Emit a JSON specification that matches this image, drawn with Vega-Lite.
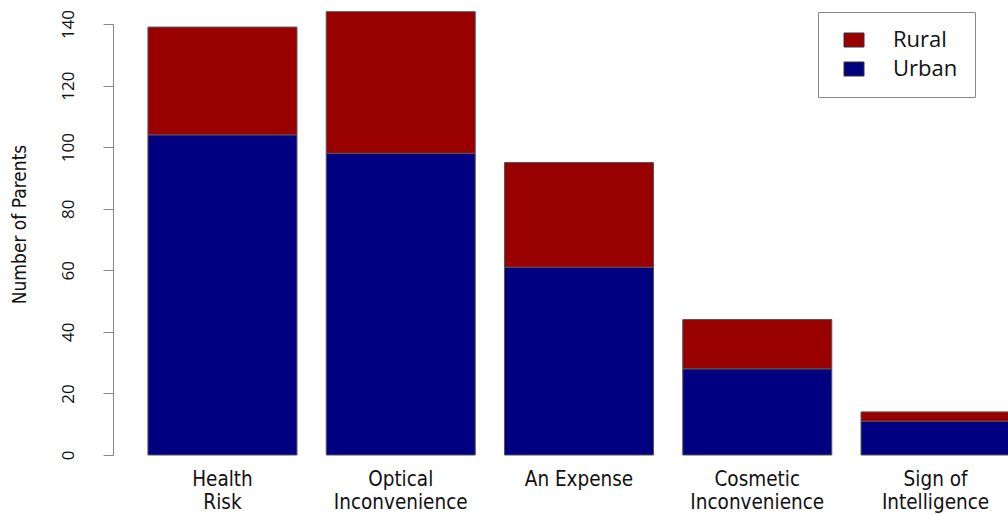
{
  "$schema": "https://vega.github.io/schema/vega-lite/v6.json",
  "autosize": "none",
  "width": 932,
  "height": 431,
  "padding": {"left": 113, "top": 24, "right": 0, "bottom": 59},
  "background": "white",
  "config": {"view": {"stroke": null}},
  "data": {"values": [
    {"reason": "Health Risk", "group": "Urban", "parents": 104},
    {"reason": "Health Risk", "group": "Rural", "parents": 35},
    {"reason": "Optical Inconvenience", "group": "Urban", "parents": 98},
    {"reason": "Optical Inconvenience", "group": "Rural", "parents": 46},
    {"reason": "An Expense", "group": "Urban", "parents": 61},
    {"reason": "An Expense", "group": "Rural", "parents": 34},
    {"reason": "Cosmetic Inconvenience", "group": "Urban", "parents": 28},
    {"reason": "Cosmetic Inconvenience", "group": "Rural", "parents": 16},
    {"reason": "Sign of Intelligence", "group": "Urban", "parents": 11},
    {"reason": "Sign of Intelligence", "group": "Rural", "parents": 3}
  ]},
  "mark": {"type": "bar", "stroke": "#555555", "strokeWidth": 1},
  "encoding": {
    "x": {
      "field": "reason", "type": "nominal", "sort": null,
      "scale": {"paddingInner": 0.164, "paddingOuter": 0.196},
      "axis": {
        "title": null, "domain": false, "ticks": false, "labelAngle": 0,
        "labelFont": "DejaVu Sans Condensed, Open Sans, sans-serif", "labelFontSize": 20.5, "labelColor": "#111",
        "labelPadding": 14, "labelBaseline": "top", "labelLineHeight": 23,
        "labelExpr": "datum.label == 'An Expense' ? datum.label : datum.label == 'Sign of Intelligence' ? ['Sign of', 'Intelligence'] : split(datum.label, ' ')"
      }
    },
    "y": {
      "field": "parents", "type": "quantitative", "aggregate": "sum",
      "stack": "zero",
      "scale": {"domain": [0, 140], "nice": false},
      "axis": {
        "title": "Number of Parents", "titleFont": "DejaVu Sans Condensed, Open Sans, sans-serif", "titleFontSize": 19,
        "titleFontWeight": "normal", "titleColor": "#111", "titlePadding": 30, "titleY": 200,
        "values": [0, 20, 40, 60, 80, 100, 120, 140],
        "grid": false, "domainColor": "#888", "tickColor": "#888", "tickSize": 10,
        "labelAngle": 270, "labelAlign": "center", "labelBaseline": "bottom",
        "labelPadding": 26, "labelFont": "Open Sans", "labelFontSize": 17, "labelColor": "#111"
      }
    },
    "color": {
      "field": "group", "type": "nominal",
      "scale": {"domain": ["Rural", "Urban"], "range": ["#990000", "#000080"]},
      "legend": {
        "title": null, "orient": "none", "legendX": 705, "legendY": -12,
        "strokeColor": "#888", "padding": 17, "fillColor": "white",
        "symbolType": "M-1,-0.7H1V0.7H-1Z", "symbolSize": 400,
        "symbolStrokeColor": "#333", "symbolStrokeWidth": 1, "symbolOpacity": 1,
        "labelFont": "Open Sans", "labelFontSize": 22, "labelColor": "#111",
        "labelOffset": 28, "rowPadding": 7, "symbolOffset": 8
      }
    },
    "order": {"field": "group", "sort": "descending"}
  }
}
